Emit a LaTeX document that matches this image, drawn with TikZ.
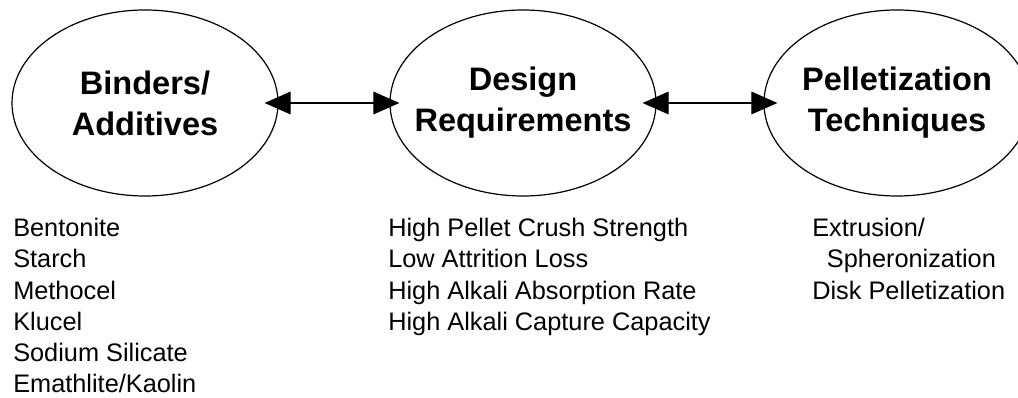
\documentclass[tikz,border=0pt]{standalone}
\usepackage{fontspec}
\setmainfont{Liberation Sans}
\usetikzlibrary{shapes.geometric,arrows.meta}
\begin{document}
\begin{tikzpicture}[x=0.75pt,y=-0.75pt,
  topic/.style={ellipse,draw,line width=0.9pt,inner sep=0pt,
    minimum width=199.5pt,minimum height=139.5pt},
  topictext/.style={font=\bfseries\fontsize{24.4}{30.75}\selectfont,
    align=center,inner sep=0pt},
  link/.style={line width=0.8pt,{Triangle[length=19.5pt,width=17pt]}-{Triangle[length=19.5pt,width=17pt]}},
  itemlist/.style={anchor=north west,inner sep=0pt,align=left,
    font=\fontsize{19}{23.4}\selectfont}]
  \useasboundingbox (0,0) rectangle (1018,398);
  \clip (0,0) rectangle (1018,398);

  % the three topic ellipses, titles set in their centres
  \node[topic,label={[topictext]center:Binders/\\Additives}] (bind) at (145,103) {};
  \node[topic,label={[topictext]center:Design\\Requirements}] (des) at (523,103) {};
  \node[topic,label={[topictext]center:Pelletization\\Techniques}] (pel) at (897,103) {};

  % two-way links between neighbouring topics
  \draw[link] ([xshift=-10.5pt]bind.east) -- ([xshift=7.5pt]des.west);
  \draw[link] ([xshift=-10.5pt]des.east) -- ([xshift=10.5pt]pel.west);

  % lists under each topic
  \node[itemlist] (bindlist) at (13,218)
    {Bentonite\\Starch\\Methocel\\Klucel\\Sodium Silicate\\Emathlite/Kaolin};
  \node[itemlist] (deslist) at (388,218)
    {High Pellet Crush Strength\\Low Attrition Loss\\High Alkali Absorption Rate\\High Alkali Capture Capacity};
  \node[itemlist] (pellist) at (812,218)
    {Extrusion/\\\hspace*{11pt}Spheronization\\Disk Pelletization};
\end{tikzpicture}
\end{document}
